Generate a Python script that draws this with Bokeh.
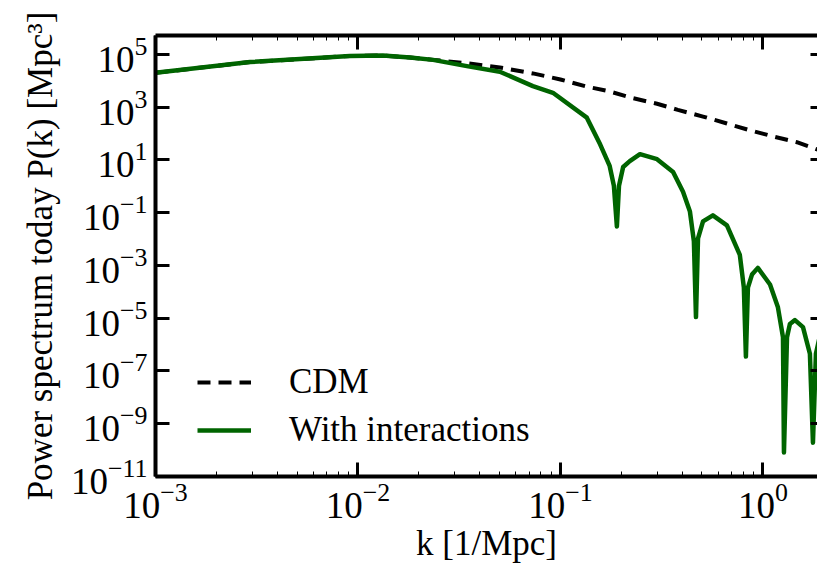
from bokeh.plotting import figure
from bokeh.models import (FixedTicker, LogAxis, Legend, LegendItem, Range1d)
from bokeh.embed import file_html
from bokeh.resources import INLINE

# ---- data ----
k_cdm = [0.001, 0.00293, 0.00912, 0.01327, 0.01806, 0.0235, 0.0345, 0.0502,
         0.0731, 0.1, 0.135, 0.172, 0.228, 0.300, 0.380, 0.506, 0.664, 0.843,
         1.12, 1.47, 1.85, 2.0]
P_cdm = [2.0e4, 5.1e4, 8.7e4, 9.1e4, 7.6e4, 6.2e4, 4.6e4, 3.2e4,
         1.9e4, 1.12e4, 6.0e3, 4.1e3, 2.2e3, 1.35e3, 7.9e2, 4.4e2, 2.4e2, 1.4e2,
         78, 47, 25, 20]

k_int = [0.001, 0.00293, 0.00912, 0.01327, 0.01806, 0.0235, 0.0345, 0.0502,
         0.0731, 0.0918, 0.135, 0.157, 0.175, 0.1836, 0.190, 0.1946, 0.204,
         0.220, 0.247, 0.300, 0.360, 0.403, 0.436, 0.456, 0.467, 0.478, 0.506,
         0.566, 0.664, 0.769, 0.805, 0.824, 0.843, 0.883, 0.944, 1.084, 1.186,
         1.256, 1.270, 1.315, 1.359, 1.439, 1.577, 1.706, 1.766, 1.827, 1.955]
P_int = [2.0e4, 5.1e4, 8.7e4, 9.1e4, 7.6e4, 6.2e4, 3.6e4, 2.2e4,
         6.3e3, 3.5e3, 4.0e2, 39, 5.9, 1.05, 0.030, 1.05, 5.4,
         9.0, 16.5, 10.7, 3.5, 0.62, 0.11, 8.3e-3, 1.1e-5, 1.07e-2, 4.7e-2,
         7.9e-2, 3.3e-2, 2.5e-3, 1.45e-4, 3.5e-7, 1.45e-4, 4.5e-4, 8.1e-4, 1.9e-4, 2.6e-5,
         1.9e-6, 8.1e-11, 1.9e-6, 6.0e-6, 8.5e-6, 4.6e-6, 4.5e-7, 1.9e-10, 4.5e-7, 4.6e-6]

x_major = [1e-3, 1e-2, 1e-1, 1e0]
x_minor = [m * d for d in [1e-3, 1e-2, 1e-1, 1e0] for m in range(2, 10)]
y_major = [1e-11, 1e-9, 1e-7, 1e-5, 1e-3, 1e-1, 1e1, 1e3, 1e5]

labels = ["CDM", "With interactions"]
x_label = "k [1/Mpc]"
y_label = "Power spectrum today P(k) [Mpc\u00b3]"

FONT = "Liberation Serif"
GREEN = "#006400"

p = figure(width=817, height=565, x_axis_type="log", y_axis_type="log",
           x_range=Range1d(1e-3, 1.86), y_range=Range1d(1e-11, 5.2e5),
           output_backend="svg", toolbar_location=None,
           min_border_left=155, min_border_right=0,
           min_border_top=35, min_border_bottom=84)
p.outline_line_color = None
p.grid.visible = False
p.background_fill_color = "white"
p.border_fill_color = "white"

r1 = p.line(k_cdm, P_cdm, line_color="black", line_width=4, line_dash="13 8")
r2 = p.line(k_int, P_int, line_color=GREEN, line_width=4.5, line_join="round")


def style_axis(ax, ticks, minor, show_labels=True, show_line=True):
    ax.ticker = FixedTicker(ticks=ticks, minor_ticks=minor)
    ax.axis_line_color = "black" if show_line else None
    ax.axis_line_width = 4
    ax.major_tick_in = 14
    ax.major_tick_out = 0
    ax.major_tick_line_width = 3
    ax.major_tick_line_color = "black"
    ax.minor_tick_in = 5
    ax.minor_tick_out = 0
    ax.minor_tick_line_width = 1
    ax.minor_tick_line_color = "black"
    ax.major_label_text_font = FONT
    if show_labels:
        ax.major_label_text_font_size = "37px"
        ax.major_label_text_color = "black"
        ax.major_label_standoff = 8
    else:
        ax.major_label_text_font_size = "1px"
        ax.major_label_text_alpha = 0
        ax.major_label_standoff = 0


xb = p.xaxis[0]
yl = p.yaxis[0]
style_axis(xb, x_major, x_minor)
style_axis(yl, y_major, [])
xb.major_label_standoff = 6
xb.axis_label = x_label
yl.axis_label = y_label
for ax in (xb, yl):
    ax.axis_label_text_font = FONT
    ax.axis_label_text_font_size = "35px"
    ax.axis_label_text_font_style = "normal"
    ax.axis_label_text_color = "black"
xb.axis_label_standoff = 3
yl.axis_label_standoff = 8

top = LogAxis()
style_axis(top, x_major, x_minor, show_labels=False)
p.add_layout(top, "above")
right = LogAxis()
style_axis(right, y_major, [], show_labels=False, show_line=False)
right.major_tick_in = 7
p.add_layout(right, "right")

legend = Legend(items=[LegendItem(label=labels[0], renderers=[r1]),
                       LegendItem(label=labels[1], renderers=[r2])],
                location=(42, 22))
legend.padding = 0
legend.margin = 0
legend.spacing = 0
legend.border_line_color = None
legend.background_fill_alpha = 0
legend.glyph_width = 54
legend.glyph_height = 48
legend.label_height = 48
legend.label_standoff = 38
legend.label_text_font = FONT
legend.label_text_font_size = "35px"
legend.label_text_color = "black"
p.add_layout(legend)

open("out.html", "w").write(file_html(p, INLINE))
